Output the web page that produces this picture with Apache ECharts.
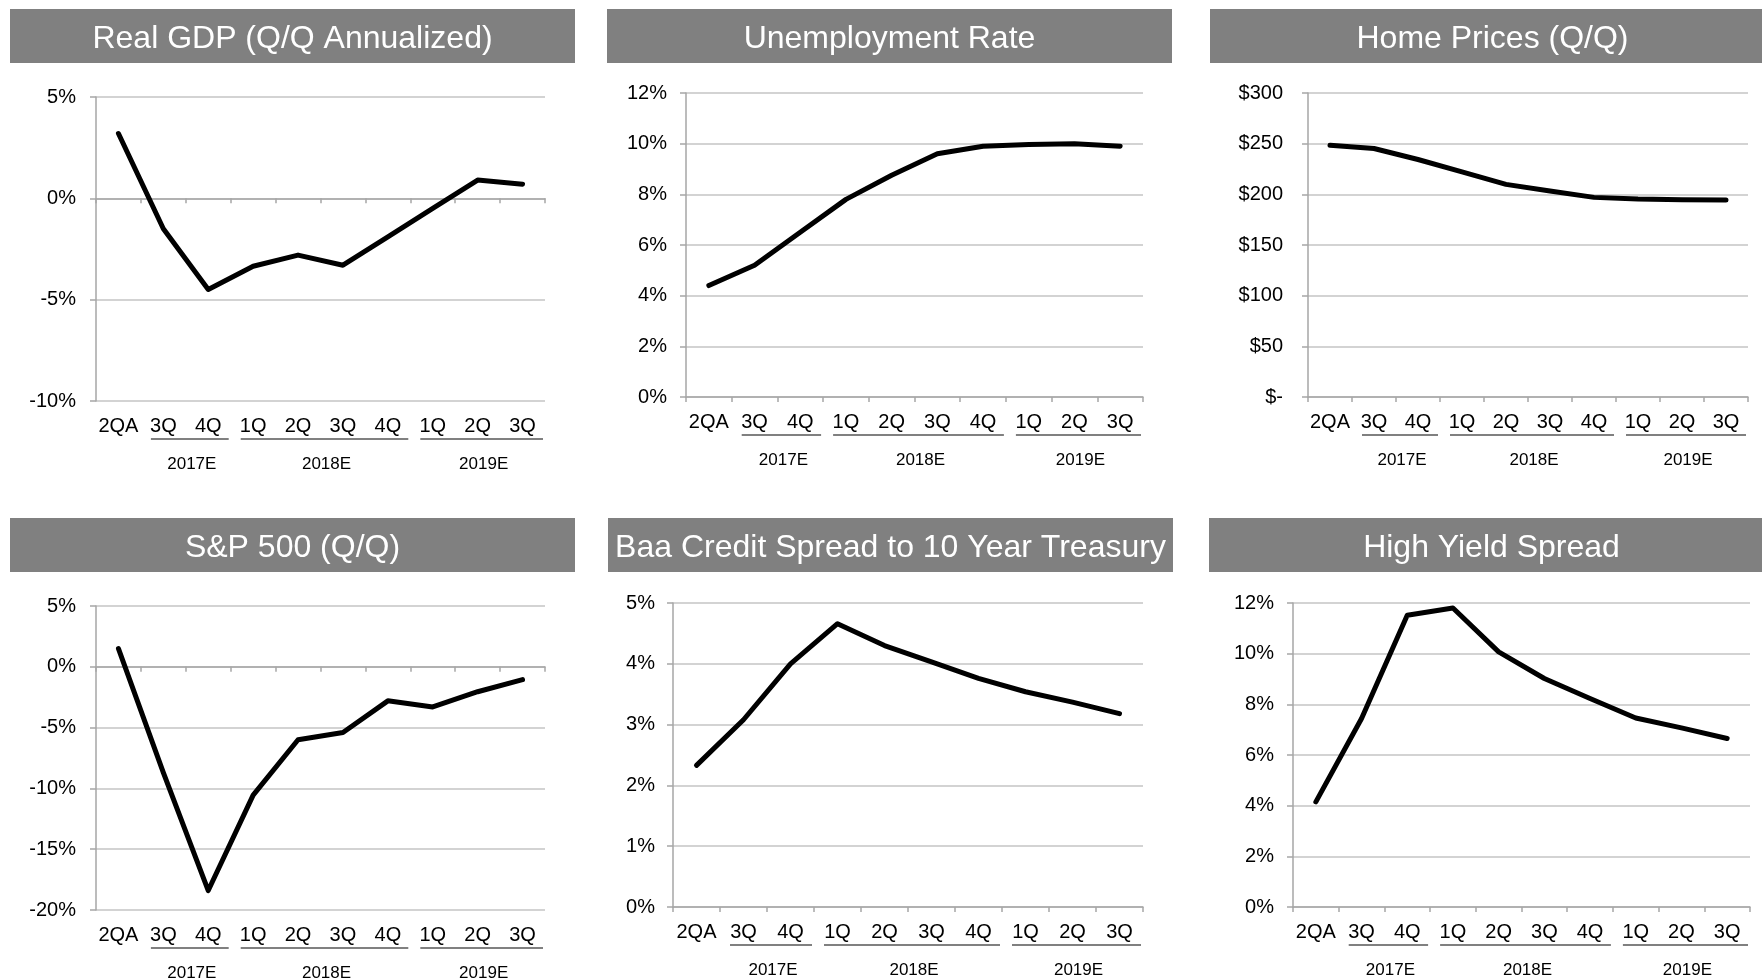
<!DOCTYPE html>
<html><head><meta charset="utf-8">
<script src="https://cdn.jsdelivr.net/npm/echarts@6/dist/echarts.min.js"></script>
<style>html,body{margin:0;padding:0;background:#fff}#c{width:1762px;height:980px}</style>
</head><body><div id="c"></div>
<script>
// ---------- data ----------
const quarters = ['2QA','3Q','4Q','1Q','2Q','3Q','4Q','1Q','2Q','3Q'];
const yearLabels = ['2017E','2018E','2019E'];
const yearFirstIdx = [1, 3, 7];
const yearLastIdx = [2, 6, 9];
const titles = ['Real GDP (Q/Q Annualized)','Unemployment Rate','Home Prices (Q/Q)','S&P 500 (Q/Q)','Baa Credit Spread to 10 Year Treasury','High Yield Spread'];
const gdp = [3.2, -1.5, -4.5, -3.35, -2.8, -3.3, -1.9, -0.5, 0.9, 0.7];
const unemployment = [4.4, 5.2, 6.5, 7.8, 8.75, 9.6, 9.9, 9.97, 10.0, 9.9];
const homePrices = [248.5, 245.2, 234.4, 222.2, 209.8, 203.2, 197, 195.3, 194.6, 194.3];
const sp500 = [1.5, -8.7, -18.4, -10.55, -6.0, -5.4, -2.8, -3.3, -2.05, -1.05];
const baaSpread = [2.33, 3.08, 4.0, 4.66, 4.3, 4.03, 3.76, 3.54, 3.37, 3.18];
const hySpread = [4.15, 7.44, 11.52, 11.8, 10.07, 9.02, 8.23, 7.46, 7.07, 6.65];
const yMin = [-10, 0, 0, -20, 0, 0];
const yMax = [5, 12, 300, 5, 5, 12];
const yStep = [5, 2, 50, 5, 1, 2];
const yKind = ['pct','pct','usd','pct','pct','pct'];
const seriesData = [gdp, unemployment, homePrices, sp500, baaSpread, hySpread];

// ---------- layout / style ----------
const grids = [
  {left:96, top:97, width:449, height:304},
  {left:686, top:93, width:457, height:304},
  {left:1308, top:93, width:440, height:304},
  {left:96, top:606, width:449, height:304},
  {left:673, top:603, width:470, height:304},
  {left:1293, top:603, width:457, height:304}
];
const titleBoxes = [[10,9,565,54],[607,9,565,54],[1210,9,565,54],[10,518,565,54],[608,518,565,54],[1209,518,565,54]];
const yLabelMargin = [20, 19, 25, 20, 18, 19];
const FONT = '"Liberation Sans", Arial, Helvetica, sans-serif';
const AXIS_GRAY = '#a6a6a6';
const GRID_GRAY = '#c4c4c4';

const chart = echarts.init(document.getElementById('c'), null, {renderer:'canvas'});

const xAxes = [], yAxes = [], series = [];
grids.forEach((g, i) => {
  xAxes.push({
    type:'category', gridIndex:i, data:quarters, boundaryGap:true, position:'bottom',
    axisLine:{show:true, onZero:true, lineStyle:{color:AXIS_GRAY, width:1.5}},
    axisTick:{show:true, interval:0, length:5, lineStyle:{color:AXIS_GRAY, width:1.5}},
    axisLabel:{show:false}, splitLine:{show:false}
  });
  xAxes.push({
    type:'category', gridIndex:i, data:quarters, boundaryGap:true, position:'bottom',
    axisLine:{show:false, onZero:false}, axisTick:{show:false},
    axisLabel:{show:true, interval:0, margin:15, fontSize:20, color:'#000', fontFamily:FONT},
    splitLine:{show:false}
  });
  yAxes.push({
    type:'value', gridIndex:i, min:yMin[i], max:yMax[i], interval:yStep[i],
    axisLine:{show:true, lineStyle:{color:AXIS_GRAY, width:1.5}},
    axisTick:{show:true, length:6, lineStyle:{color:AXIS_GRAY, width:1.5}},
    splitLine:{show:true, lineStyle:{color:GRID_GRAY, width:1.5}},
    axisLabel:{fontSize:20, color:'#000', fontFamily:FONT, margin:yLabelMargin[i],
      formatter: yKind[i] === 'usd' ? (v => v === 0 ? '$-' : '$' + v) : (v => v + '%')}
  });
  series.push({
    type:'line', xAxisIndex:2*i, yAxisIndex:i, data:seriesData[i],
    showSymbol:false, symbol:'none', silent:true, smooth:false,
    lineStyle:{color:'#000', width:5, cap:'round', join:'round'}
  });
});

chart.setOption({
  animation:false,
  grid: grids.map(g => Object.assign({containLabel:false}, g)),
  xAxis: xAxes, yAxis: yAxes, series: series
});

// ---------- titles and year group labels ----------
const graphics = [];
titleBoxes.forEach((b, i) => {
  graphics.push({type:'rect', shape:{x:b[0], y:b[1], width:b[2], height:b[3]}, style:{fill:'#808080'}, silent:true, z:10});
  graphics.push({type:'text', x:b[0] + b[2]/2, y:b[1] + b[3]/2 + 3, silent:true, z:11,
    style:{text:titles[i], fill:'#fff', fontSize:32, fontFamily:FONT, align:'center', verticalAlign:'middle'}});
});
grids.forEach((g, i) => {
  const c0 = chart.convertToPixel({xAxisIndex:2*i}, 0);
  const c1 = chart.convertToPixel({xAxisIndex:2*i}, 1);
  const bw = c1 - c0;
  const bottom = chart.convertToPixel({yAxisIndex:i}, yMin[i]);
  yearLabels.forEach((lab, k) => {
    const xa = chart.convertToPixel({xAxisIndex:2*i}, yearFirstIdx[k]) - bw/2 + 10;
    const xb = chart.convertToPixel({xAxisIndex:2*i}, yearLastIdx[k]) + bw/2 - 2;
    graphics.push({type:'line', shape:{x1:xa, y1:bottom+38, x2:xb, y2:bottom+38}, silent:true,
      style:{stroke:'#808080', lineWidth:2}});
    graphics.push({type:'text', x:(xa+xb)/2 + 2, y:bottom+63, silent:true,
      style:{text:lab, fill:'#000', fontSize:17, fontFamily:FONT, align:'center', verticalAlign:'middle'}});
  });
});
chart.setOption({graphic: graphics});
</script></body></html>
